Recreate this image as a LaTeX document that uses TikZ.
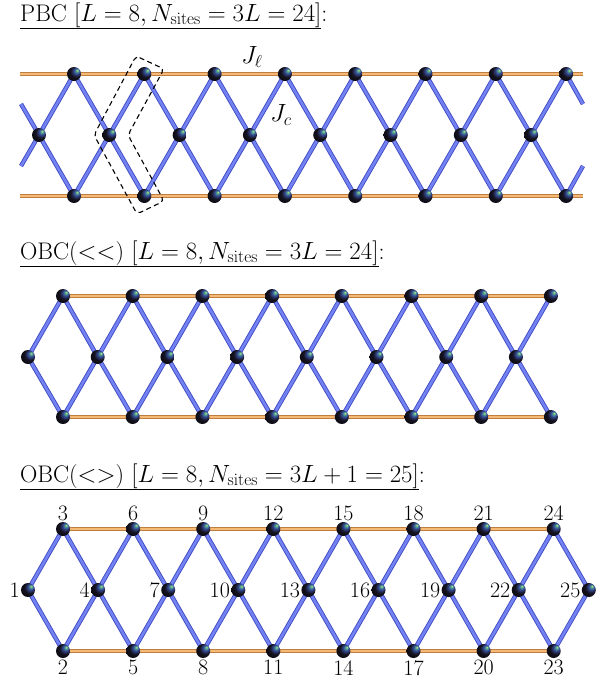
\documentclass[tikz,border=0pt]{standalone}
\usetikzlibrary{calc}
\definecolor{railfill}{RGB}{246,186,118}
\definecolor{railedge}{RGB}{190,125,65}
\definecolor{bondfill}{RGB}{115,130,242}
\definecolor{bondedge}{RGB}{65,75,195}
\definecolor{hlA}{RGB}{215,225,130}
\definecolor{hlB}{RGB}{80,170,145}
\definecolor{hlC}{RGB}{55,75,150}
\definecolor{hlD}{RGB}{20,18,30}
\pgfdeclareradialshading{sphere}{\pgfpoint{12bp}{14bp}}{color(0bp)=(hlA); color(4bp)=(hlB); color(10bp)=(hlC); color(20bp)=(hlD); color(50bp)=(black)}
\pgfdeclarelayer{bg}
\pgfsetlayers{bg,main}
\tikzset{
  site/.style={circle, minimum size=14pt, inner sep=0pt, shading=sphere},
  bond/.style={draw=bondedge, line width=0.9pt, double=bondfill, double distance=2.6pt},
  rail/.style={draw=railedge, line width=0.6pt, double=railfill, double distance=2.5pt},
  titletext/.style={anchor=base west, inner sep=0pt},
  cellbox/.style={draw=black, line width=1.1pt, dash pattern=on 5pt off 3.5pt, rounded corners=4pt},
  lab/.style={inner sep=1pt, font=\fontsize{22}{26}\selectfont}
}
\begin{document}
\begin{tikzpicture}[x=1pt,y=-1pt,font=\fontsize{24}{29}\selectfont]
\useasboundingbox (0,0) rectangle (595,683);

% ---------- titles ----------
\node[titletext] (t1) at (20,21) {\underline{PBC $[L=8, N_{\rm sites}=3L=24]$}:};
\node[titletext] (t2) at (20,259) {\underline{OBC($<<$) $[L=8, N_{\rm sites}=3L=24]$}:};
\node[titletext] (t3) at (20,482) {\underline{OBC($<>$) $[L=8, N_{\rm sites}=3L+1=25]$}:};

% ---------- PBC ----------
\foreach \k in {0,...,7}{
  \pgfmathsetmacro\xt{74+70.3*\k}
  \pgfmathsetmacro\xm{39+70.3*\k}
  \node[site] (pt\k) at (\xt,74) {};
  \node[site] (pm\k) at (\xm,135) {};
  \node[site] (pb\k) at (\xt,196) {};
}
\coordinate (plt) at (20,74);
\coordinate (prt) at (583,74);
\coordinate (plb) at (20,196);
\coordinate (prb) at (583,196);
\coordinate (pl1) at (21,104);
\coordinate (pl2) at (21,166);
\coordinate (pr1) at (583,104);
\coordinate (pr2) at (583,166);
\begin{pgfonlayer}{bg}
  \draw[rail] (plt) -- (pt0.center);
  \draw[rail] (pt7.center) -- (prt);
  \draw[rail] (plb) -- (pb0.center);
  \draw[rail] (pb7.center) -- (prb);
  \foreach \k in {0,...,7}{
    \draw[bond] (pm\k.center) -- (pt\k.center);
    \draw[bond] (pm\k.center) -- (pb\k.center);
  }
  \foreach \k in {0,...,6}{
    \pgfmathtruncatemacro\n{\k+1}
    \draw[rail] (pt\k.center) -- (pt\n.center);
    \draw[rail] (pb\k.center) -- (pb\n.center);
    \draw[bond] (pt\k.center) -- (pm\n.center);
    \draw[bond] (pb\k.center) -- (pm\n.center);
  }
  \draw[bond] (pm0.center) -- (pl1);
  \draw[bond] (pm0.center) -- (pl2);
  \draw[bond] (pt7.center) -- (pr1);
  \draw[bond] (pb7.center) -- (pr2);
\end{pgfonlayer}
\draw[cellbox] (136,56) -- (164,69) -- (128,135) -- (164,201) -- (137,214) -- (94,135) -- cycle;
\node (jl) at (252,57) {$J_\ell$};
\node (jc) at (281,115) {$J_c$};

% ---------- OBC(<<) ----------
\foreach \k in {0,...,7}{
  \pgfmathsetmacro\xt{63+69.7*\k}
  \pgfmathsetmacro\xm{28+69.7*\k}
  \node[site] (at\k) at (\xt,296) {};
  \node[site] (am\k) at (\xm,357) {};
  \node[site] (ab\k) at (\xt,417) {};
}
\begin{pgfonlayer}{bg}
  \foreach \k in {0,...,7}{
    \draw[bond] (am\k.center) -- (at\k.center);
    \draw[bond] (am\k.center) -- (ab\k.center);
  }
  \foreach \k in {0,...,6}{
    \pgfmathtruncatemacro\n{\k+1}
    \draw[rail] (at\k.center) -- (at\n.center);
    \draw[rail] (ab\k.center) -- (ab\n.center);
    \draw[bond] (at\k.center) -- (am\n.center);
    \draw[bond] (ab\k.center) -- (am\n.center);
  }
\end{pgfonlayer}

% ---------- OBC(<>) ----------
\foreach \k in {0,...,8}{
  \pgfmathsetmacro\xm{28+70.1*\k}
  \pgfmathtruncatemacro\nm{3*\k+1}
  \node[site, label={[lab]left:\nm}] (cm\k) at (\xm,590) {};
}
\foreach \k in {0,...,7}{
  \pgfmathsetmacro\xt{63+70.1*\k}
  \pgfmathtruncatemacro\nb{3*\k+2}
  \pgfmathtruncatemacro\nt{3*\k+3}
  \node[site, label={[lab, label distance=0pt]above:\nt}] (ct\k) at (\xt,529) {};
  \node[site, label={[lab, label distance=1pt]below:\nb}] (cb\k) at (\xt,651) {};
}
\begin{pgfonlayer}{bg}
  \foreach \k in {0,...,7}{
    \pgfmathtruncatemacro\n{\k+1}
    \draw[bond] (cm\k.center) -- (ct\k.center);
    \draw[bond] (cm\k.center) -- (cb\k.center);
    \draw[bond] (ct\k.center) -- (cm\n.center);
    \draw[bond] (cb\k.center) -- (cm\n.center);
  }
  \foreach \k in {0,...,6}{
    \pgfmathtruncatemacro\n{\k+1}
    \draw[rail] (ct\k.center) -- (ct\n.center);
    \draw[rail] (cb\k.center) -- (cb\n.center);
  }
\end{pgfonlayer}
\end{tikzpicture}
\end{document}
